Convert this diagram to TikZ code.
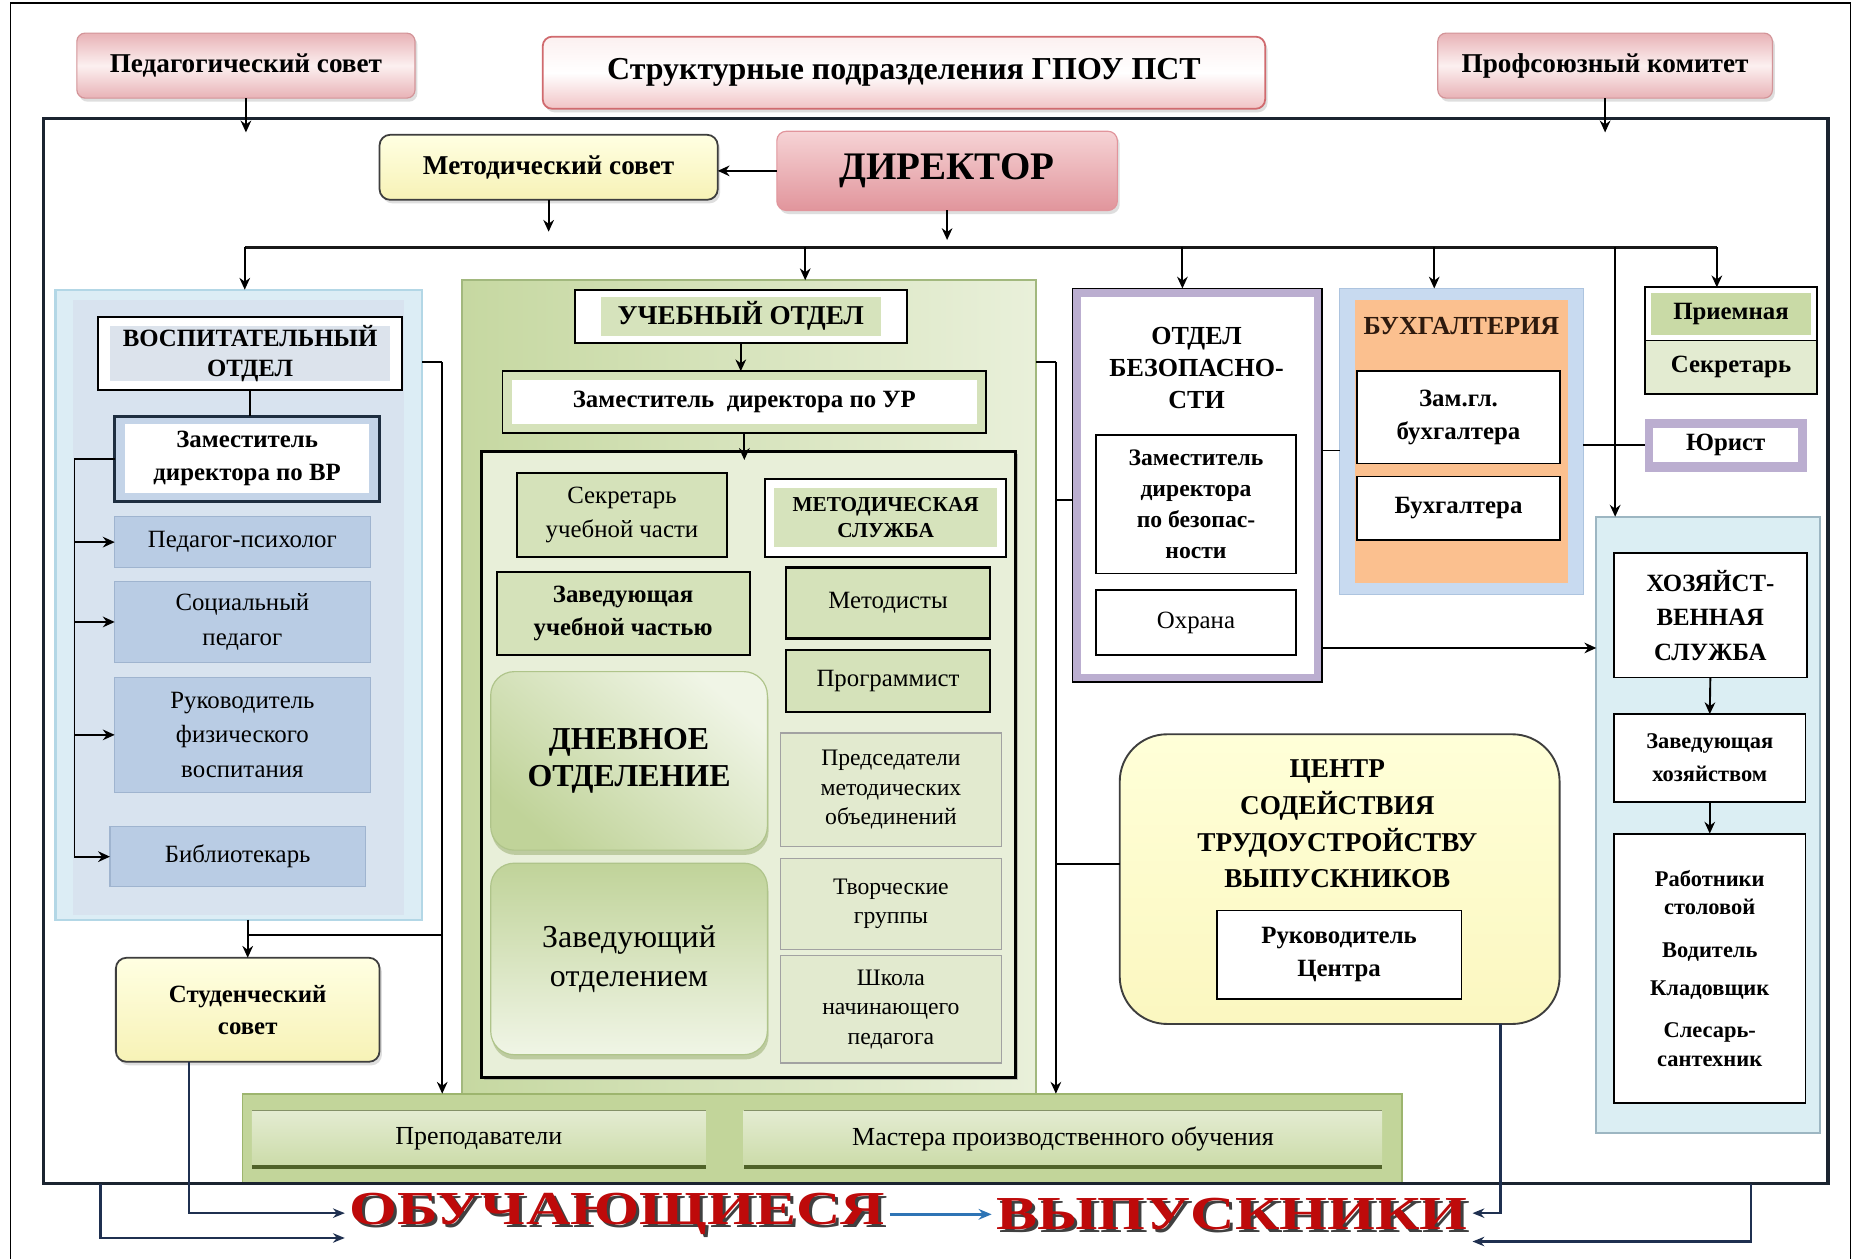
\documentclass[tikz,border=0pt]{standalone}
\usepackage{fontspec}
\setmainfont{Liberation Serif}
\usepackage{graphicx}
\usetikzlibrary{arrows.meta,shadows}
\newcommand\fz[2]{\fontsize{#1}{#2}\selectfont}
\newcommand\bx[7]{\node[#1,minimum width={(#5-#3)*1pt},minimum height={(#6-#4)*1pt}] (#2) at ({(#3+#5)/2},{(#4+#6)/2}) {#7};}
\definecolor{framec}{HTML}{1B2430}
\definecolor{pinkA}{HTML}{E8B2B6}
\definecolor{pinkB}{HTML}{FCF0F0}
\definecolor{pinkD}{HTML}{D39498}
\definecolor{titleD}{HTML}{D06A6E}
\definecolor{titleB}{HTML}{F1C3C5}
\definecolor{dirA}{HTML}{F6D3D5}
\definecolor{dirB}{HTML}{E1959C}
\definecolor{yelA}{HTML}{FFFFE2}
\definecolor{yelB}{HTML}{F7F2B6}
\definecolor{yelD}{HTML}{3E3E3E}
\definecolor{vospO}{HTML}{DCEDF5}
\definecolor{vospOD}{HTML}{B3D7E6}
\definecolor{vospI}{HTML}{D8E3EF}
\definecolor{vospBand}{HTML}{DCE3EC}
\definecolor{zamD}{HTML}{1E2E40}
\definecolor{zamF}{HTML}{C4D4E8}
\definecolor{blueF}{HTML}{B9CCE4}
\definecolor{blueD}{HTML}{9FB4CF}
\definecolor{uchA}{HTML}{C6D8A1}
\definecolor{uchB}{HTML}{E9F0DA}
\definecolor{uchD}{HTML}{A2B87E}
\definecolor{gband}{HTML}{D6E3BC}
\definecolor{innF}{HTML}{E8EFD9}
\definecolor{gF}{HTML}{D5E2BA}
\definecolor{fF}{HTML}{E2EACF}
\definecolor{fD}{HTML}{A2A2A2}
\definecolor{dnA}{HTML}{C0D399}
\definecolor{dnB}{HTML}{F0F5E6}
\definecolor{dnD}{HTML}{AFC48A}
\definecolor{dnS}{HTML}{93A968}
\definecolor{prepF}{HTML}{C2D59A}
\definecolor{prepD}{HTML}{9DB56E}
\definecolor{tchA}{HTML}{E4ECD2}
\definecolor{tchB}{HTML}{CBDBA8}
\definecolor{tchD}{HTML}{4F6228}
\definecolor{lav}{HTML}{BBAED0}
\definecolor{buhO}{HTML}{C8DAF0}
\definecolor{buhD}{HTML}{ADC4DF}
\definecolor{buhF}{HTML}{FBC08F}
\definecolor{buhT}{HTML}{2E1A0E}
\definecolor{secF}{HTML}{E3EBD1}
\definecolor{prmG}{HTML}{C9DAA6}
\definecolor{hozF}{HTML}{DBEEF3}
\definecolor{hozD}{HTML}{9DB6C2}
\definecolor{cenA}{HTML}{FFFFD8}
\definecolor{cenB}{HTML}{FBF7C0}
\definecolor{navy}{HTML}{1F3050}
\definecolor{arrblue}{HTML}{2E74B5}
\definecolor{redt}{HTML}{BE0A0A}
\begin{document}
\begin{tikzpicture}[x=1pt,y=-1pt,
  every node/.style={align=center,inner sep=1pt,outer sep=0pt,font=\fz{21}{26}},
  band/.style n args={3}{path picture={\fill[#1] ([shift={(#2,-#3)}]path picture bounding box.north west) rectangle ([shift={(-#2,#3)}]path picture bounding box.south east);}},
  line/.style={draw=black,line width=1.6pt},
  arr/.style={line,-{Stealth[length=10pt,width=9pt]}},
  bus/.style={draw=black!90,line width=2.6pt},
  navyarr/.style={draw=navy,line width=2pt,-{Stealth[length=10pt,width=8pt]}},
  bluearr/.style={draw=arrblue,line width=2pt,-{Stealth[length=11pt,width=9pt]}},
  shad/.style={drop shadow={shadow xshift=2pt,shadow yshift=-3pt,fill=black!25}},
  pinkbox/.style={rounded corners=7pt,draw=pinkD,line width=1pt,top color=pinkA,bottom color=pinkA,middle color=pinkB,shad},
  titlebox/.style={rounded corners=8pt,draw=titleD,line width=1.5pt,top color=pinkB,bottom color=titleB,middle color=white,shad},
  dirbox/.style={rounded corners=8pt,draw=dirB,line width=1pt,top color=dirA,bottom color=dirB,shad},
  yelbox/.style={rounded corners=9pt,draw=yelD,line width=1.5pt,top color=yelA,bottom color=yelB,shad},
  wbox/.style={draw=black,line width=1.6pt,fill=white},
  bluebox/.style={fill=blueF,draw=blueD,line width=1pt},
  gbox/.style={fill=gF,draw=black,line width=1.8pt},
  fbox/.style={fill=fF,draw=fD,line width=1.2pt},
  dnbox/.style={rounded corners=20pt,draw=dnD,line width=1pt,drop shadow={shadow xshift=1pt,shadow yshift=-4pt,fill=dnS}},
  tchbox/.style={top color=tchA,bottom color=tchB,draw=none}
]
\useasboundingbox (0,0) rectangle (1568,1065);
\fill[white] (0,0) rectangle (1568,1065);
\draw[line width=1.4pt] (9,1065) -- (9,2.5) -- (1565,2.5) -- (1565,1065);

% ---------- containers ----------
\bx{fill=vospO,draw=vospOD,line width=2pt}{vospC}{47}{245}{357}{778}{}
\bx{fill=vospI,draw=none}{vospI}{62}{254}{342}{774}{}
\bx{left color=uchA,right color=uchB,draw=uchD,line width=1.5pt}{uchC}{391}{237}{876}{925}{}
\bx{fill=innF,draw=black,line width=2.4pt,drop shadow={shadow xshift=2pt,shadow yshift=-2pt,fill=black!45}}{uchI}{407}{382}{859}{911}{}
\bx{fill=lav,draw=black,line width=1.5pt,band={white}{7pt}{7pt}}{bezC}{907}{244}{1118}{577}{}
\bx{fill=buhO,draw=buhD,line width=1pt,band={buhF}{13pt}{10pt}}{buhC}{1133}{244}{1339}{503}{}
\bx{fill=hozF,draw=hozD,line width=2pt}{hozC}{1350}{437}{1539}{958}{}
\bx{fill=prepF,draw=prepD,line width=1.5pt}{prepC}{205}{925}{1186}{1001}{}

% frame
\draw[draw=framec,line width=2.8pt] (37,100) rectangle (1546,1001);

% ---------- top ----------
\bx{pinkbox,font=\fz{23}{26}\bfseries}{ped}{65}{28}{351}{83}{Педагогический совет}
\bx{titlebox,font=\fz{27}{30}\bfseries}{title}{459}{31}{1070}{92}{Структурные подразделения ГПОУ ПСТ}
\bx{pinkbox,font=\fz{23}{26}\bfseries}{prof}{1216}{28}{1499}{83}{Профсоюзный комитет}
\bx{yelbox,font=\fz{23}{26}\bfseries}{metsov}{321}{114}{607}{169}{Методический совет}
\bx{dirbox,font=\fz{33}{36}\bfseries}{dir}{657}{111}{945}{178}{ДИРЕКТОР}

% ---------- воспитательный ----------
\bx{wbox,band={vospBand}{10pt}{8pt},font=\fz{21}{25}\bfseries}{vosp}{83}{268}{340}{330}{ВОСПИТАТЕЛЬНЫЙ\\ОТДЕЛ}
\bx{draw=zamD,line width=2.4pt,fill=zamF,band={white}{9pt}{7pt},font=\fz{21}{28}\bfseries}{zamvr}{97}{352}{321}{424}{Заместитель\\директора по ВР}
\bx{bluebox}{psy}{97}{437}{313}{480}{Педагог-психолог}
\bx{bluebox,font=\fz{21}{29}}{soc}{97}{492}{313}{560}{Социальный\\педагог}
\bx{bluebox,font=\fz{21}{29}}{fiz}{97}{573}{313}{670}{Руководитель\\физического\\воспитания}
\bx{bluebox}{bib}{93}{699}{309}{750}{Библиотекарь}
\bx{yelbox,font=\fz{21}{27}\bfseries}{stud}{98}{810}{321}{898}{Студенческий\\совет}

% ---------- учебный ----------
\bx{wbox,band={gband}{22pt}{6pt},font=\fz{23}{26}\bfseries}{uch}{486}{245}{767}{290}{УЧЕБНЫЙ ОТДЕЛ}
\bx{draw=black,line width=1.6pt,fill=gF,band={white}{8pt}{7pt},font=\fz{21}{26}\bfseries}{zamur}{425}{314}{834}{366}{Заместитель\enspace директора по УР}
\bx{gbox,font=\fz{21}{28}}{sekr}{437}{400}{615}{471}{Секретарь\\учебной части}
\bx{wbox,band={gband}{8pt}{8pt},font=\fz{18}{22}\bfseries}{metsl}{647}{405}{851}{471}{МЕТОДИЧЕСКАЯ\\СЛУЖБА}
\bx{gbox,font=\fz{21}{28}\bfseries}{zavuch}{420}{484}{634}{554}{Заведующая\\учебной частью}
\bx{gbox}{metod}{665}{480}{837}{540}{Методисты}
\bx{gbox}{prog}{665}{550}{837}{602}{Программист}
\bx{dnbox,top color=dnB,bottom color=dnA,shading angle=-40,font=\fz{27}{32}\bfseries}{dnev}{415}{568}{649}{719}{ДНЕВНОЕ\\ОТДЕЛЕНИЕ}
\bx{dnbox,top color=dnA,bottom color=dnB,font=\fz{27}{33}}{zavot}{415}{730}{649}{892}{Заведующий\\отделением}
\bx{fbox,font=\fz{20}{25}}{pred}{660}{620}{847}{716}{Председатели\\методических\\объединений}
\bx{fbox,font=\fz{20}{25}}{tvor}{660}{726}{847}{803}{Творческие\\группы}
\bx{fbox,font=\fz{20}{25}}{shk}{660}{808}{847}{899}{Школа\\начинающего\\педагога}

% ---------- безопасность ----------
\node[font=\fz{22}{27}\bfseries] (beztitle) at (1012,311) {ОТДЕЛ\\БЕЗОПАСНО-\\СТИ};
\bx{wbox,font=\fz{20}{26}\bfseries}{zambez}{927}{368}{1096}{485}{Заместитель\\директора\\по безопас-\\ности}
\bx{wbox}{ohr}{927}{499}{1096}{554}{Охрана}

% ---------- бухгалтерия ----------
\node[font=\fz{22}{26}\bfseries,text=buhT] (buhT) at (1236,276) {БУХГАЛТЕРИЯ};
\bx{wbox,font=\fz{21}{28}\bfseries}{zamgl}{1148}{314}{1319}{392}{Зам.гл.\\бухгалтера}
\bx{wbox,font=\fz{21}{26}\bfseries}{buh}{1148}{403}{1319}{457}{Бухгалтера}

% ---------- right column ----------
\bx{wbox,band={prmG}{5pt}{5pt},font=\fz{21}{26}\bfseries}{prm}{1391}{243}{1537}{288}{Приемная}
\bx{fill=secF,draw=black,line width=1.6pt,font=\fz{21}{26}\bfseries}{sek}{1391}{288}{1537}{333}{Секретарь}
\bx{fill=lav,draw=none,band={white}{7pt}{8pt},font=\fz{21}{26}\bfseries}{jur}{1391}{354}{1528}{399}{Юрист}
\bx{wbox,font=\fz{21}{29}\bfseries}{hoz}{1365}{468}{1528}{573}{ХОЗЯЙСТ-\\ВЕННАЯ\\СЛУЖБА}
\bx{wbox,font=\fz{19}{28}\bfseries}{zavh}{1365}{604}{1527}{678}{Заведующая\\хозяйством}
\bx{wbox,font=\fz{19}{24}\bfseries}{rab}{1365}{705}{1527}{933}{Работники\\столовой\\[12pt]Водитель\\[8pt]Кладовщик\\[12pt]Слесарь-\\сантехник}

% ---------- центр ----------
\bx{rounded corners=40pt,draw=yelD,line width=1.6pt,top color=cenA,bottom color=cenB}{centr}{947}{621}{1319}{866}{}
\node[font=\fz{23}{31}\bfseries] (centrT) at (1131,697) {ЦЕНТР\\СОДЕЙСТВИЯ\\ТРУДОУСТРОЙСТВУ\\ВЫПУСКНИКОВ};
\bx{wbox,font=\fz{21}{28}\bfseries}{ruk}{1029}{770}{1236}{845}{Руководитель\\Центра}

% ---------- преподаватели ----------
\bx{tchbox,font=\fz{22}{26}}{prep}{213}{939}{597}{987}{Преподаватели}
\bx{tchbox,font=\fz{22}{26}}{mast}{629}{939}{1169}{987}{Мастера производственного обучения}
\draw[draw=tchD,line width=3pt] (prep.south west) -- (prep.south east);
\draw[draw=tchD,line width=3pt] (mast.south west) -- (mast.south east);
\draw[draw=tchD!70,line width=1pt] (prep.north west) -- (prep.north east);
\draw[draw=tchD!70,line width=1pt] (mast.north west) -- (mast.north east);

% ---------- bottom words ----------
\node[font=\fz{40}{44}\bfseries,text=black!75] (obuS) at (524.5,1029.5) {\scalebox{1.3}[1]{ОБУЧАЮЩИЕСЯ}};
\node[font=\fz{40}{44}\bfseries,text=redt,inner sep=4pt] (obu) at (522,1027) {\scalebox{1.3}[1]{ОБУЧАЮЩИЕСЯ}};
\node[font=\fz{40}{44}\bfseries,text=black!75] (vypS) at (1044.5,1029.5) {\scalebox{1.3}[1]{ВЫПУСКНИКИ}};
\node[font=\fz{40}{44}\bfseries,text=redt,inner sep=4pt] (vyp) at (1042,1027) {\scalebox{1.3}[1]{ВЫПУСКНИКИ}};

% ---------- connectors ----------
\draw[arr] (ped.south) -- ++(0,29);
\draw[arr] (prof.south) -- ++(0,29);
\draw[arr] (dir.west) -- (dir.west -| metsov.east);
\draw[arr] (metsov.south) -- ++(0,27);
\draw[arr] (dir.south) -- ++(0,25);

\coordinate (bL) at (207,209);
\coordinate (bR) at (1452,209);
\coordinate (b2) at (681,209);
\coordinate (b3) at (1000,209);
\coordinate (b4) at (1213,209);
\coordinate (b5) at (1366,209);
\draw[bus] (bL) -- (bR);
\draw[arr] (bL) -- (bL |- vospC.north);
\draw[arr] (b2) -- (b2 |- uchC.north);
\draw[arr] (b3) -- (b3 |- bezC.north);
\draw[arr] (b4) -- (b4 |- buhC.north);
\draw[arr] (b5) -- (b5 |- hozC.north);
\draw[arr] (bR) -- (bR |- prm.north);

% восп
\draw[line] (vosp.south) -- (vosp.south |- zamvr.north);
\coordinate (brT) at (63,388);
\draw[line] (zamvr.west) -- (brT |- zamvr.west) -- (brT |- bib.west);
\draw[arr] (brT |- psy.west) -- (psy.west);
\draw[arr] (brT |- soc.west) -- (soc.west);
\draw[arr] (brT |- fiz.west) -- (fiz.west);
\draw[arr] (brT |- bib.west) -- (bib.west);
\coordinate (vr1) at (374,306);
\coordinate (vr2) at (374,791);
\draw[line] (vospC.east |- vr1) -- (vr1);
\draw[arr] (vr1) -- (vr1 |- prepC.north);
\draw[arr] (stud.north |- vospC.south) -- (stud.north);
\draw[line] (stud.north |- vr2) -- (vr2);

% учебный
\draw[arr] (uch.south) -- (uch.south |- zamur.north);
\draw[arr] (zamur.south) -- ++(0,23);
\coordinate (ur1) at (893,306);
\coordinate (ur2) at (893,423);
\coordinate (ur3) at (893,731);
\draw[line] (uchC.east |- ur1) -- (ur1);
\draw[arr] (ur1) -- (ur1 |- prepC.north);
\draw[line] (ur2) -- (ur2 -| bezC.west);
\draw[line] (ur3) -- (ur3 -| centr.west);

% right part
\coordinate (bb1) at (1118,381);
\coordinate (bh1) at (1118,548);
\draw[line] (bb1) -- (bb1 -| buhC.west);
\draw[arr] (bh1) -- (bh1 -| hozC.west);
\draw[line] (buhC.east |- jur.west) -- (jur.west);
\draw[arr] (hoz.south) -- (zavh.north);
\draw[arr] (zavh.south) -- (rab.north);

% bottom
\coordinate (s1) at (160,898);
\coordinate (f1) at (85,1001);
\coordinate (c1) at (1269,866);
\coordinate (f2) at (1481,1001);
\draw[navyarr] (s1) |- ([yshift=1pt]obu.west);
\draw[navyarr] (f1) |- ([yshift=-20pt]obu.west);
\draw[navyarr] (c1) |- ([yshift=1pt]vyp.east);
\draw[navyarr] (f2) |- ([yshift=-23pt]vyp.east);
\draw[bluearr] (obu.east) -- (vyp.west);
\end{tikzpicture}
\end{document}
